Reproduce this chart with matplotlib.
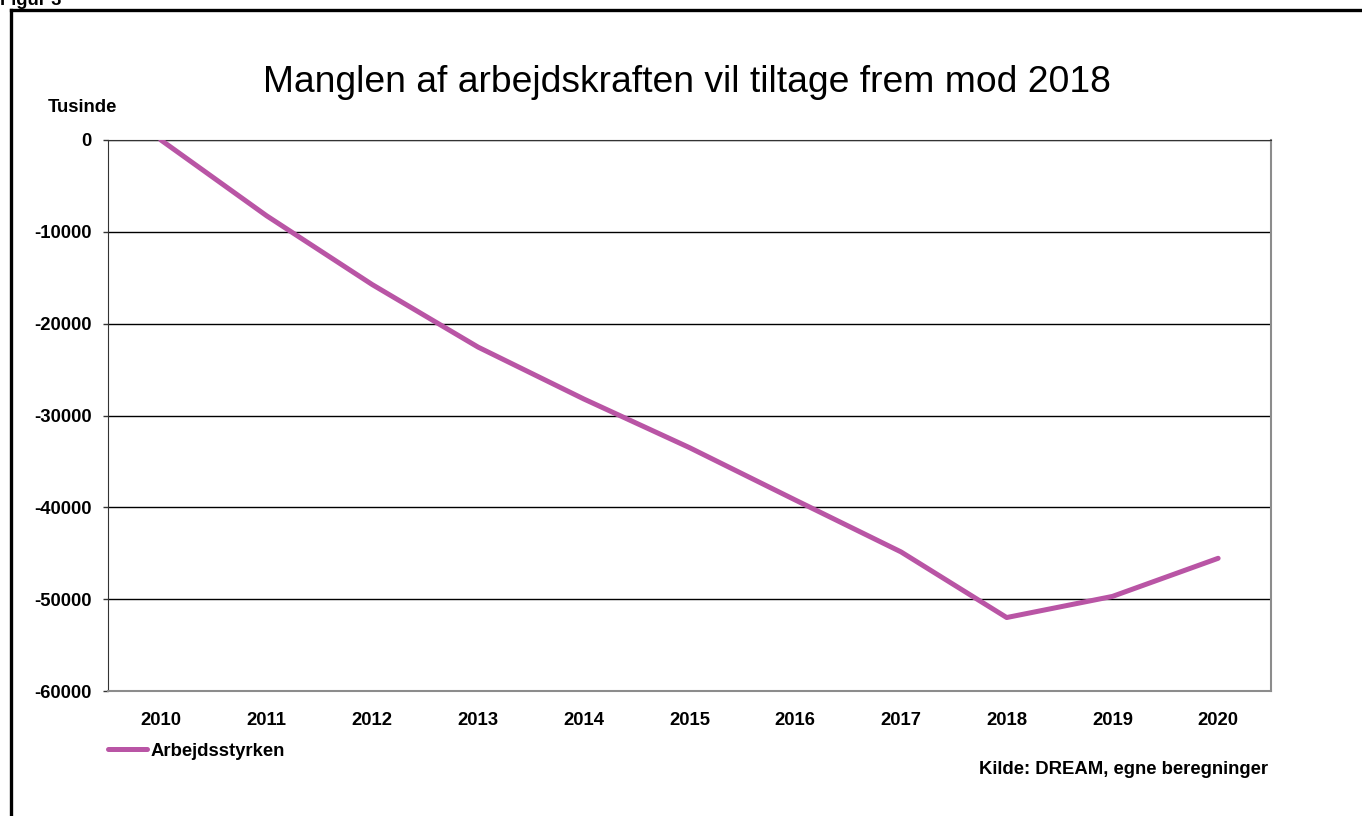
import matplotlib.pyplot as plt
from matplotlib.lines import Line2D

plt.rcParams['font.family'] = ['Liberation Sans', 'DejaVu Sans']

years = ['2010', '2011', '2012', '2013', '2014', '2015',
         '2016', '2017', '2018', '2019', '2020']
arbejdsstyrken = [0, -8250, -15750, -22550, -28200, -33500,
                  -39200, -44850, -52000, -49700, -45550]
yticks = [0, -10000, -20000, -30000, -40000, -50000, -60000]

W, H = 1362, 816
fig = plt.figure(figsize=(W / 100, H / 100), dpi=100)
ax = fig.add_axes([108 / W, 1 - 691 / H, (1271 - 108) / W, (691 - 140) / H])

x = range(len(years))
line, = ax.plot(x, arbejdsstyrken, color='#B955A5', lw=3.6,
                solid_capstyle='round', solid_joinstyle='round', zorder=3)

ax.set_xlim(-0.5, len(years) - 0.5)
ax.set_ylim(-60000, 0)
ax.set_yticks(yticks)
ax.set_yticklabels([str(v) for v in yticks], fontsize=13.3, fontweight='bold')
ax.set_xticks(list(x))
ax.set_xticklabels(years, fontsize=13.3, fontweight='bold')
ax.tick_params(axis='x', length=0, pad=15)
ax.tick_params(axis='y', length=3.6, width=1, color='#333333', pad=8)
ax.grid(axis='y', color='black', lw=1)
ax.set_axisbelow(True)

for side in ['right', 'bottom']:
    ax.spines[side].set_color('#8c8c8c')
    ax.spines[side].set_linewidth(1.5)
ax.spines['left'].set_color('#333333')
ax.spines['top'].set_color('#333333')

fig.text(687 / W, 1 - 82 / H, 'Manglen af arbejdskraften vil tiltage frem mod 2018',
         ha='center', va='center', fontsize=26.8)
fig.text(48 / W, 1 - 107 / H, 'Tusinde', ha='left', va='center',
         fontsize=13.3, fontweight='bold')
fig.text(1268 / W, 1 - 769 / H, 'Kilde: DREAM, egne beregninger',
         ha='right', va='center', fontsize=13.3, fontweight='bold')
fig.text(0, 1 - 5 / H, 'Figur 3', ha='left', va='baseline',
         fontsize=13.3, fontweight='bold')

# legend drawn by hand under the axis
fig.add_artist(Line2D([108 / W, 147 / W], [1 - 749 / H, 1 - 749 / H],
                      color='#B955A5', lw=3.6, solid_capstyle='round'))
fig.text(151 / W, 1 - 751 / H, 'Arbejdsstyrken', ha='left', va='center',
         fontsize=13.3, fontweight='bold')

# outer frame
fig.add_artist(Line2D([11 / W, 1], [1 - 9.5 / H, 1 - 9.5 / H], color='black', lw=2.4))
fig.add_artist(Line2D([11 / W, 11 / W], [0, 1 - 9.5 / H], color='black', lw=2.4))

fig.savefig('out.png', dpi=100)
